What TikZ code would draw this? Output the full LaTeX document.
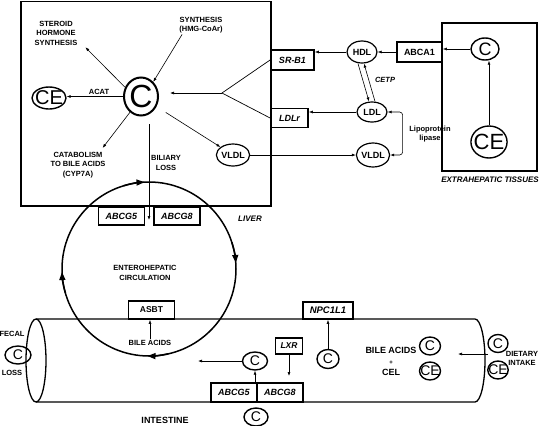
\documentclass[tikz,border=0pt]{standalone}
\usepackage{fontspec}
\setmainfont{Liberation Sans}
\usepackage{tikz}
\usetikzlibrary{shapes.geometric, arrows.meta}

\begin{document}
\begin{tikzpicture}[x=1pt, y=-1pt, font=\bfseries\fontsize{7.5}{9.5}\selectfont,
		>={Latex[length=4pt, width=3pt]},
		arr/.style={->, line width=0.6pt},
		flow/.style={line width=1.5pt, -{Triangle[length=8pt, width=6pt]}},
		gene/.style={draw, rectangle, fill=white, line width=1.8pt, inner sep=0pt, font=\bfseries\itshape\fontsize{9}{9}\selectfont},
		lipo/.style={draw, ellipse, line width=1.2pt, inner sep=0pt, minimum width=30, minimum height=22, font=\bfseries\fontsize{9}{9}\selectfont},
		chol/.style={draw, ellipse, line width=1.4pt, inner xsep=-2.5pt, inner ysep=0pt, minimum width=22, minimum height=18, font=\mdseries\fontsize{14}{14}\selectfont},
		lbl/.style={align=center, inner sep=1pt},
		organ/.style={font=\bfseries\itshape\fontsize{8}{8}\selectfont}]
		\useasboundingbox (0,0) rectangle (547,426);
		\draw[line width=1.5pt] (21,1.5) rectangle (271,206);
		\draw[line width=1.5pt] (442,23) rectangle (537,171);
		\draw[line width=1.3pt] (36,360.5) ellipse [x radius=10, y radius=41.5];
		\draw[line width=1.3pt] (36,319) -- (475,319) arc[start angle=-90, end angle=90, x radius=10, y radius=41.5] -- (36,402);
		\node[chol, line width=2pt, minimum width=34, minimum height=38, font=\mdseries\fontsize{32}{32}\selectfont] (C) at (141,96.5) {C};
		\node[chol, minimum width=34, minimum height=22, font=\mdseries\fontsize{20}{20}\selectfont] (CE) at (49,98) {CE};
		\node[lbl] (acat) at (99,92) {ACAT};
		\draw[arr] (C.west) -- (C.west -| CE.east);
		\node[lbl] (ster) at (56,33) {STEROID\\HORMONE\\SYNTHESIS};
		\draw[arr] (C.150) -- ([shift={(7,1)}]ster.south east);
		\node[lbl] (syn) at (201,25) {SYNTHESIS\\(HMG-CoAr)};
		\draw[arr] ([xshift=4]syn.south west) -- (C.50);
		\node[lbl] (cat) at (78,165) {CATABOLISM\\TO BILE ACIDS\\(CYP7A)};
		\draw[arr] (C.-125) -- ([shift={(-4,-3)}]cat.north east);
		\node[lipo] (vldlL) at (233,155) {VLDL};
		\draw[arr, shorten <=11pt] (C.-33) -- (vldlL);
		\coordinate (bilA) at (149,124);
		\coordinate (bilB) at (149,220);
		\draw[arr] (bilA) -- (bilB);
		\node[lbl] (bil) at (166,163) {BILIARY\\LOSS};
		\node[gene, minimum width=43, minimum height=20] (srb) at (292.5,60) {SR-B1};
		\node[gene, minimum width=37, minimum height=19] (ldlr) at (289.5,118) {LDLr};
		\coordinate (fork) at (222,93);
		\draw[line width=0.7pt] (srb.west) -- (fork) -- (ldlr.west);
		\draw[arr, shorten >=11pt] (fork) -- (C.east |- fork);
		\node[lipo] (hdl) at (362,52) {HDL};
		\node[gene, font=\bfseries\upshape\fontsize{9}{9}\selectfont, minimum width=45, minimum height=20] (abca) at (419.5,52) {ABCA1};
		\node[chol, minimum width=28, minimum height=22, font=\mdseries\fontsize{18}{18}\selectfont] (cx) at (485,49) {C};
		\node[chol, minimum width=36, minimum height=32, font=\mdseries\fontsize{22}{22}\selectfont] (cex) at (489,142) {CE};
		\draw[arr] (cex.north) -- (cex.north |- cx.south);
		\draw[arr] (cx.west) -- (cx.west -| abca.east);
		\draw[arr] (abca.west) -- (hdl.east);
		\draw[arr] (hdl.west) -- (hdl.west -| srb.east);
		\node[lipo, minimum height=20] (ldl) at (372,112) {LDL};
		\draw[arr] ([xshift=-4]hdl.south) -- ([xshift=-3]ldl.north);
		\draw[arr] ([xshift=3]ldl.north) -- ([xshift=2]hdl.south);
		\node[lbl, font=\bfseries\itshape\fontsize{7.5}{9}\selectfont] (cetp) at (385,80) {CETP};
		\draw[arr] (ldl.west) -- (ldl.west -| ldlr.east);
		\node[lipo, minimum width=32, minimum height=24] (vldlR) at (373,155) {VLDL};
		\draw[arr] (vldlL.east) -- (vldlL.east -| vldlR.west);
		\draw[<->, line width=0.6pt, rounded corners=3pt] (ldl.east) -- ([xshift=15]ldl.east) |- (vldlR.east);
		\node[lbl] (lpl) at (430,134) {Lipoprotein\\lipase};
		\node[organ] (extra) at (490,180) {EXTRAHEPATIC TISSUES};
		\node[organ] (liver) at (250,219) {LIVER};
		\node[gene, minimum width=46, minimum height=18] (g5up) at (121.5,216) {ABCG5};
		\node[gene, minimum width=46, minimum height=18] (g8up) at (177,216) {ABCG8};
		\node[lbl] (ehl) at (145,273) {ENTEROHEPATIC\\CIRCULATION};
		\node[gene, font=\bfseries\upshape\fontsize{8.5}{8.5}\selectfont, minimum width=46, minimum height=18] (asbt) at (151.5,310) {ASBT};
		\node[lbl] (bileL) at (150,343) {BILE ACIDS};
		\draw[arr] (bileL.north) -- (bileL.north |- asbt.south);
		\node[gene, font=\bfseries\itshape\fontsize{9.5}{9.5}\selectfont, minimum width=50, minimum height=17] (npc) at (328,310.5) {NPC1L1};
		\node[chol, minimum height=19] (cn) at (328,359) {C};
		\draw[arr] (cn) -- (npc);
		\node[gene, font=\bfseries\itshape\fontsize{8.5}{8.5}\selectfont, minimum width=27, minimum height=16] (lxr) at (289,346) {LXR};
		\coordinate (lxrE) at (289,376);
		\draw[arr] (lxr) -- (lxrE);
		\node[chol, minimum width=25] (cm) at (255,361) {C};
		\coordinate (cmE) at (198,361);
		\draw[arr] (cm) -- (cmE);
		\node[gene, minimum width=46, minimum height=19] (g5lo) at (234,392.5) {ABCG5};
		\node[gene, minimum width=46, minimum height=19] (g8lo) at (280,392.5) {ABCG8};
		\node[chol, minimum width=24] (cb) at (256,417) {C};
		\draw[arr] (cm.south |- g5lo.north) -- (cm);
		\node[font=\bfseries\fontsize{9}{9}\selectfont] (intest) at (165,420) {INTESTINE};
		\node[lbl, font=\bfseries\fontsize{9}{11}\selectfont] (bileR) at (391,361) {BILE ACIDS\\{\fontsize{6}{6}\selectfont +}\\CEL};
		\node[chol, minimum width=21] (ci) at (430,346) {C};
		\node[chol, minimum width=21] (cei) at (430,371) {CE};
		\coordinate (dA) at (488,354);
		\coordinate (dB) at (458,354);
		\draw[arr] (dA) -- (dB);
		\node[chol, minimum width=20] (co) at (498,343.5) {C};
		\node[chol, minimum width=20] (ceo) at (498,370) {CE};
		\node[lbl, font=\bfseries\fontsize{7.5}{9}\selectfont] (diet) at (522,358) {DIETARY\\INTAKE};
		\node[lbl] (fec) at (12,334) {FECAL};
		\node[chol, minimum width=26] (cf) at (18,355) {C};
		\node[lbl] (loss) at (12,373) {LOSS};
		\coordinate (ehc) at (149,269);
		\foreach \a in {-4,91,178,267}
			\draw[flow] ([shift={(\a-14:87)}]ehc) arc[start angle=\a-14, end angle=\a, radius=87];
		\draw[line width=1.5pt] (ehc) circle [radius=87];
	\end{tikzpicture}
\end{document}
